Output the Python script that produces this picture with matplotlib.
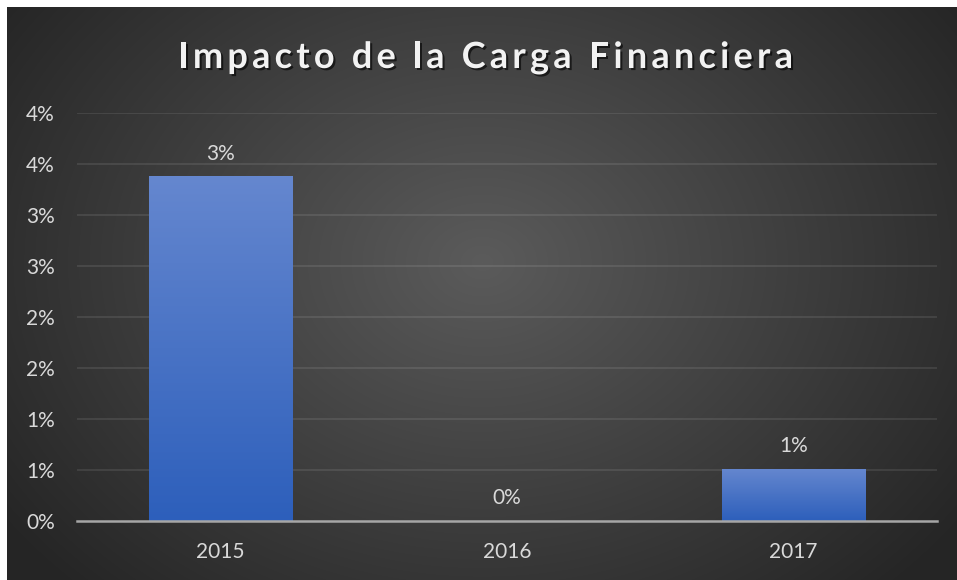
import numpy as np
import matplotlib
matplotlib.use("Agg")
import matplotlib.pyplot as plt
from matplotlib import patheffects as pe
from matplotlib import font_manager, ft2font

# ---- data ----
years = ["2015", "2016", "2017"]
values = [0.0338, 0.0, 0.0051]
ytick_values = [0.0, 0.005, 0.010, 0.015, 0.020, 0.025, 0.030, 0.035, 0.040]
ytick_labels = ["0%", "1%", "1%", "2%", "2%", "3%", "3%", "4%", "4%"]
title = "Impacto de la Carga Financiera"


def pct_label(v):
    return "%d%%" % int(np.floor(v * 100 + 0.5))


W_PX, H_PX = 957, 580
fig = plt.figure(figsize=(W_PX / 100, H_PX / 100), dpi=100)
fig.patch.set_facecolor("white")

# ---- radial gradient background ----
bg = fig.add_axes([7 / W_PX, 0, 950 / W_PX, 573 / H_PX])
bg.set_axis_off()
H, W = 573, 950
yy, xx = np.mgrid[0:H, 0:W]
cx, cy = 475, 255
r = np.sqrt(((xx - cx) / (W * 0.62)) ** 2 + ((yy - cy) / (H * 0.80)) ** 2)
r = np.clip(r, 0, 1)
c0 = np.array([0x5b, 0x5b, 0x5b]) / 255
c1 = np.array([0x25, 0x25, 0x25]) / 255
img = c0 + (c1 - c0) * r[..., None]
bg.imshow(img, aspect="auto", extent=[0, 1, 0, 1], interpolation="bilinear")
bg.set_xlim(0, 1)
bg.set_ylim(0, 1)

# ---- main axes ----
ax = fig.add_axes([77 / W_PX, 59 / H_PX, 860 / W_PX, 408 / H_PX])
ax.set_facecolor("none")
x = np.arange(len(years))
ax.set_xlim(-0.5, len(years) - 0.5)
ax.set_ylim(0, 0.04)

for yv in ytick_values[1:]:
    ax.axhline(yv, color="white", alpha=0.11, lw=1.2, zorder=1)

bars = ax.bar(x, values, width=0.5, color="#4672c4", zorder=3,
              path_effects=[pe.SimplePatchShadow(offset=(0, 0), shadow_rgbFace="black", alpha=0.25),
                            pe.Normal()])

grad = np.linspace(0, 1, 256)[:, None]
top_c = np.array([0x65, 0x87, 0xcf]) / 255
bot_c = np.array([0x2d, 0x5f, 0xbb]) / 255
gimg = top_c + (bot_c - top_c) * grad[..., None]
for b in bars:
    if b.get_height() <= 0:
        continue
    x0, w, h = b.get_x(), b.get_width(), b.get_height()
    im = ax.imshow(gimg, extent=[x0, x0 + w, 0, h], aspect="auto", zorder=4,
                   interpolation="bilinear")
    im.set_clip_path(b)

ax.set_xlim(-0.5, len(years) - 0.5)
ax.set_ylim(0, 0.04)

for xi, v in zip(x, values):
    ax.annotate(pct_label(v), (xi, v), xytext=(0, 9), textcoords="offset points",
                ha="center", va="bottom", color="#d9d9d9", fontsize=15,
                family="Lato", zorder=6)

for s in ["top", "right", "left"]:
    ax.spines[s].set_visible(False)
ax.spines["bottom"].set_color("#a6a6a6")
ax.spines["bottom"].set_linewidth(1.8)
ax.spines["bottom"].set_zorder(5)

ax.set_xticks(x)
ax.set_xticklabels(years)
ax.set_yticks(ytick_values)
ax.set_yticklabels(ytick_labels)
ax.tick_params(axis="both", length=0, labelcolor="#d9d9d9", labelsize=15)
ax.tick_params(axis="y", pad=16)
ax.tick_params(axis="x", pad=15)
for lab in ax.get_xticklabels() + ax.get_yticklabels():
    lab.set_family("Lato")

# ---- title with letter spacing ----
fp = font_manager.FontProperties(family="Lato", weight="bold")
fpath = font_manager.findfont(fp)
font = ft2font.FT2Font(fpath)
tsize = 26
font.set_size(tsize, 100)
adv = [font.load_char(ord(c)).linearHoriAdvance / 65536 for c in title]
target_w = 615
spacing = (target_w - sum(adv)) / (len(title) - 1)
total = sum(adv) + spacing * (len(title) - 1)
xpos = 485.5 - total / 2
base_y = (H_PX - 68) / H_PX
for c, a in zip(title, adv):
    if c != " ":
        fig.text(xpos / W_PX, base_y, c, color="#f2f2f2", fontsize=tsize,
                 fontproperties=None, family="Lato", weight="bold",
                 ha="left", va="baseline",
                 path_effects=[pe.SimplePatchShadow(offset=(1.5, -1.5), shadow_rgbFace="black", alpha=0.6),
                               pe.Normal()])
    xpos += a + spacing

fig.savefig("out.png", dpi=100, facecolor=fig.get_facecolor())
